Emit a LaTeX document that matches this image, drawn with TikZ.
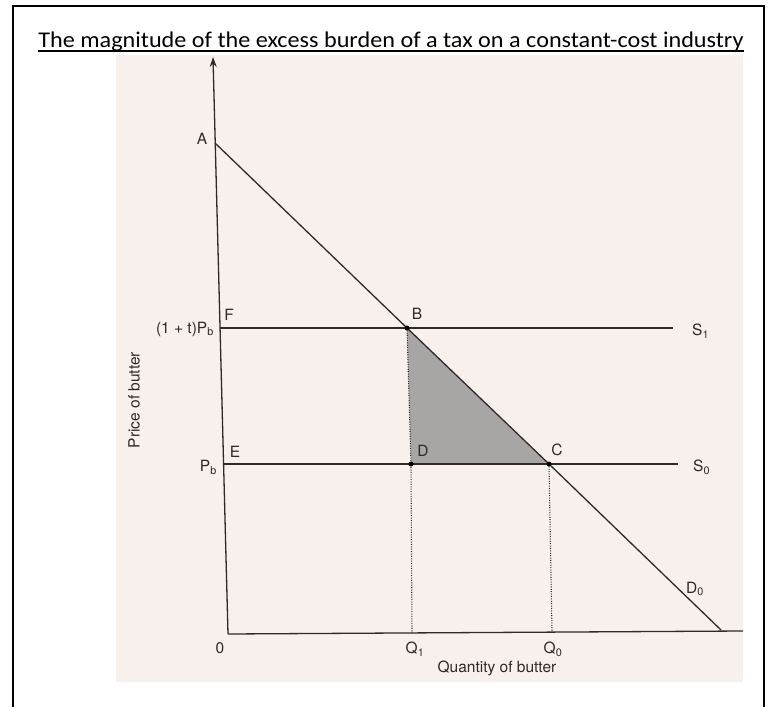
\documentclass[tikz,border=0pt]{standalone}
\usepackage{fontspec}
\usepackage{graphicx}
\setmainfont{TeX Gyre Heros}
\newfontfamily\titlefont{Carlito}
\usetikzlibrary{arrows.meta}
\definecolor{scanbg}{RGB}{247,240,236}
\definecolor{shadegray}{RGB}{168,166,164}
\definecolor{ink}{RGB}{45,42,40}
\begin{document}
\begin{tikzpicture}[x=1pt,y=-1pt,
  lbl/.style={font=\fontsize{15.5}{17}\selectfont, text=ink, inner sep=0pt},
  curve/.style={draw=ink, line width=1.3pt},
  guide/.style={draw=ink, line width=1.1pt, dash pattern=on 1pt off 1.4pt},
  dotpt/.style={circle, fill=black, inner sep=0pt, minimum size=5pt}]
\useasboundingbox (0,0) rectangle (772,707);
\fill[scanbg] (116,55) rectangle (743,682);
\draw[line width=2pt] (13,707) -- (13,6) -- (764,6) -- (764,707);
% title
\node[font=\titlefont\fontsize{22.5}{26}\selectfont, anchor=base, inner sep=0pt] (title) at (391,47)
  {\scalebox{1.075}[1]{The magnitude of the excess burden of a tax on a constant-cost industry}};
\draw[line width=1.8pt] ([yshift=-4pt]title.base west) -- ([yshift=-4pt]title.base east);
% coordinates
\coordinate (ytop) at (213,57);
\coordinate (O) at (228,634);
\coordinate (xend) at (743,631);
\coordinate (A) at (215,143);
\coordinate (Fp) at (220,328);
\coordinate (Ep) at (224,464);
\coordinate (B) at (407,328);
\coordinate (C) at (549,464);
\coordinate (D) at (411,464);
\coordinate (D0end) at (721,630);
\coordinate (S1end) at (673,328);
\coordinate (S0end) at (678,464);
\coordinate (Q1p) at (412,633);
\coordinate (Q0p) at (552,631);
% shaded excess burden
\fill[shadegray] (B) -- (D) -- (C) -- cycle;
% guides
\draw[guide] (B) -- (D) -- (Q1p);
\draw[guide] (C) -- (Q0p);
% axes
\draw[curve, -{Stealth[length=10pt,width=7pt]}] (O) -- (ytop);
\draw[curve] (O) -- (xend);
% supply and demand
\draw[curve] (Fp) -- (B) -- (S1end);
\draw[curve] (Ep) -- (D) -- (C) -- (S0end);
\draw[curve] (A) -- (B) -- (C) -- (D0end);
% points
\node[dotpt] (Bdot) at (B) {};
\node[dotpt] (Cdot) at (C) {};
\node[dotpt] (Ddot) at (D) {};
% labels
\node[lbl] (lA) at (202,139) {A};
\node[lbl] (lF) at (229,315) {F};
\node[lbl, anchor=east] (lP1) at (214,329) {(1 + t)P\textsubscript{b}};
\node[lbl] (lB) at (417,314) {B};
\node[lbl, anchor=west] (lS1) at (692,331) {S\textsubscript{1}};
\node[lbl] (lE) at (235,452) {E};
\node[lbl, anchor=east] (lPb) at (217,467) {P\textsubscript{b}};
\node[lbl] (lD) at (423,451) {D};
\node[lbl] (lC) at (557,450) {C};
\node[lbl, anchor=west] (lS0) at (693,467) {S\textsubscript{0}};
\node[lbl] (lD0) at (695,589) {D\textsubscript{0}};
\node[lbl] (lO) at (220,648) {0};
\node[lbl] (lQ1) at (415,649) {Q\textsubscript{1}};
\node[lbl] (lQ0) at (553,649) {Q\textsubscript{0}};
\node[lbl] (lqty) at (497,668) {Quantity of butter};
\node[lbl, rotate=90] (lprice) at (134,400) {Price of butter};
\end{tikzpicture}
\end{document}
